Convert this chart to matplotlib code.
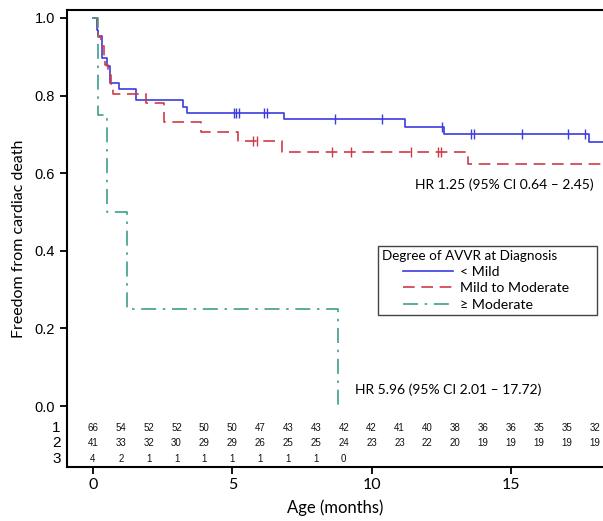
import numpy as np
import matplotlib
matplotlib.use('Agg')
import matplotlib.pyplot as plt
from matplotlib.offsetbox import HPacker, DrawingArea

# survival curves (time in months, survival after the step)
mild_t = [0, 0.13, 0.2, 0.34, 0.49, 0.61, 0.93, 1.54, 3.23, 3.36, 6.86, 11.19, 12.61, 17.8, 18.5]
mild_s = [1.0, 0.970, 0.954, 0.897, 0.877, 0.833, 0.818, 0.789, 0.771, 0.756, 0.740, 0.720, 0.701, 0.681, 0.681]
mild_cens = [5.07, 5.15, 5.24, 6.15, 6.23, 8.68, 10.38, 12.51, 13.58, 13.67, 15.4, 17.06, 17.65]

mod_t = [0, 0.13, 0.2, 0.29, 0.38, 0.45, 0.55, 0.65, 0.73, 1.92, 2.56, 3.86, 5.19, 6.77, 13.47, 18.5]
mod_s = [1.0, 0.976, 0.951, 0.927, 0.902, 0.878, 0.854, 0.829, 0.805, 0.781, 0.732, 0.707, 0.683, 0.655, 0.624, 0.624]
mod_cens = [5.75, 5.87, 8.56, 9.25, 11.42, 12.39, 12.49]

sev_t = [0, 0.2, 0.51, 1.23, 8.78]
sev_s = [1.0, 0.75, 0.5, 0.25, 0.0]

labels = ['< Mild', 'Mild to Moderate', '\u2265 Moderate']

# numbers at risk
risk_months = list(range(19))
risk1 = [66, 54, 52, 52, 50, 50, 47, 43, 43, 42, 42, 41, 40, 38, 36, 36, 35, 35, 32]
risk2 = [41, 33, 32, 30, 29, 29, 26, 25, 25, 24, 23, 23, 22, 20, 19, 19, 19, 19, 19]
risk3 = [4, 2, 1, 1, 1, 1, 1, 1, 1, 0]

c_blue = '#3b3be0'
c_red = '#d03a48'
c_green = '#3f9d8c'


def surv_at(t, s, x):
    idx = np.searchsorted(t, x, side='right') - 1
    return np.array(s)[idx]


fig = plt.figure(figsize=(6.03, 5.21), dpi=100)
ax = fig.add_axes([67 / 603, 54 / 521, 536 / 603, 457 / 521])

ax.step(mild_t, mild_s, where='post', color=c_blue, lw=1.2, label=labels[0])
ax.step(mod_t, mod_s, where='post', color=c_red, lw=1.2, dashes=(7, 4), label=labels[1])
ax.step(sev_t, sev_s, where='post', color=c_green, lw=1.2, dashes=(9, 4, 1.5, 4), label=labels[2])

ax.plot(mild_cens, surv_at(mild_t, mild_s, mild_cens), ls='none', marker='|',
        ms=7, mew=1.0, color=c_blue)
ax.plot(mod_cens, surv_at(mod_t, mod_s, mod_cens), ls='none', marker='|',
        ms=7, mew=1.0, color=c_red)

ax.set_xlim(-0.93, 18.3)
ax.set_ylim(-0.157, 1.0206)
ax.set_xticks([0, 5, 10, 15])
ax.set_yticks([0.0, 0.2, 0.4, 0.6, 0.8, 1.0])
ax.set_yticklabels(['0.0', '0.2', '0.4', '0.6', '0.8', '1.0'], family='Liberation Sans', fontsize=10.5)
ax.set_xticklabels(['0', '5', '10', '15'], family='Lato', fontsize=11.5)
ax.tick_params(direction='out', length=5, width=1.3, color='black')
ax.tick_params(axis='x', pad=3)
ax.spines['right'].set_visible(False)
for sp in ['left', 'bottom', 'top']:
    ax.spines[sp].set_linewidth(1.5)

ax.set_xlabel('Age (months)', family='Lato', fontsize=12, labelpad=5)
ax.set_ylabel('Freedom from cardiac death', family='Lato', fontsize=11.5, labelpad=6)

# at risk table
for row, (vals, yv) in enumerate(zip([risk1, risk2, risk3], [-0.057, -0.096, -0.136])):
    for m, v in zip(risk_months, vals):
        ax.text(m, yv, str(v), ha='center', va='center', fontsize=7,
                family='Liberation Sans', color='#111111')
    ax.text(-0.012, yv, str(row + 1), transform=ax.get_yaxis_transform(),
            ha='right', va='center', fontsize=11, family='Liberation Sans')

ax.text(11.55, 0.57, 'HR 1.25 (95% CI 0.64 \u2013 2.45)', ha='left', va='center',
        family='Lato', fontsize=10)
ax.text(9.40, 0.041, 'HR 5.96 (95% CI 2.01 \u2013 17.72)', ha='left', va='center',
        family='Lato', fontsize=10)

leg = ax.legend(loc='upper left', bbox_to_anchor=(0.567, 0.50), title='Degree of AVVR at Diagnosis',
                prop={'family': 'Lato', 'size': 10.2}, title_fontproperties={'family': 'Lato', 'size': 9.7},
                fancybox=False, framealpha=1, edgecolor='#444444', handlelength=3.5,
                handletextpad=0.5, borderpad=0.3, labelspacing=0.3, alignment='left')
leg.get_frame().set_linewidth(1.0)
# indent the entries under the title and pad the box on the right
hb = leg._legend_box._children[1]
indented = HPacker(children=[DrawingArea(15, 1), hb, DrawingArea(17, 1)], pad=0, sep=0, align='baseline')
indented.set_figure(fig)
leg._legend_box._children[1] = indented

fig.savefig('out.png', dpi=100)
